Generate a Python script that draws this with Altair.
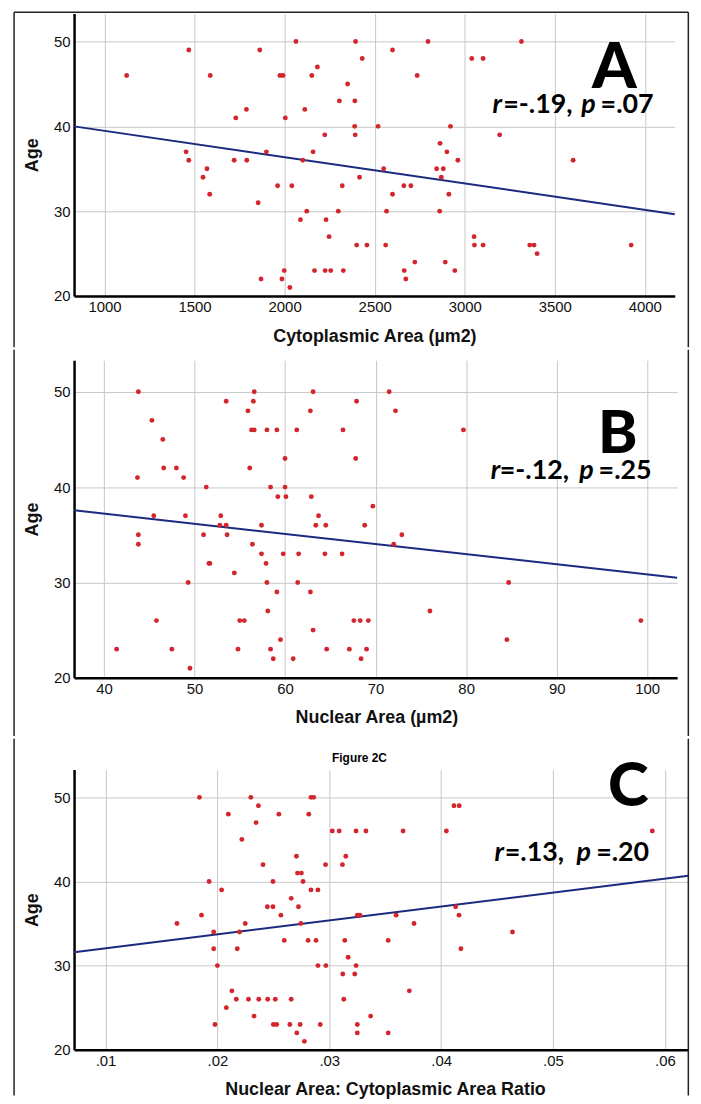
import altair as alt
import pandas as pd

# ---------------- Panel A: Cytoplasmic area vs Age ----------------
cyto_area = [1123, 1468, 1587, 1862, 2063, 2182, 1974, 1991, 2151, 2431, 2394, 2350,
             2304, 2390, 1788, 2112, 1729, 2004, 2389, 2519, 2223, 2392, 1453, 1899,
             2158, 1468, 1720, 1790, 2101, 1569, 1547, 2416, 1961, 2040, 2320, 1584,
             1853, 2123, 2298, 2088, 2230, 2247, 2400, 2457, 1998, 2166, 2225, 2256,
             2326, 1869, 1985, 2029,
             2796, 3315, 2599, 3039, 3102, 2736, 2921, 3194, 2863, 2901, 2962, 3602,
             2550, 2844, 2881, 2870, 2662, 2701, 2599, 2912, 2566, 2861, 3052, 2561,
             3054, 3102, 3361, 3385, 3924, 3402, 2723, 2892, 2664, 2945, 2673]
cyto_age = [46, 49, 46, 49, 50, 47, 46, 46, 46, 48, 50, 45,
            43, 43, 42, 42, 41, 41, 40, 40, 39, 39, 37, 37,
            37, 36, 36, 36, 36, 35, 34, 34, 33, 33, 33, 32,
            31, 30, 30, 29, 29, 27, 26, 26, 23, 23, 23, 23,
            23, 22, 22, 21,
            50, 50, 49, 48, 48, 46, 40, 39, 38, 37, 36, 36,
            35, 35, 35, 34, 33, 33, 32, 32, 30, 30, 27, 26,
            26, 26, 26, 26, 26, 25, 24, 24, 23, 23, 22]
fitA_x = [831, 4166]
fitA_y = [40.0, 29.65]

# ---------------- Panel B: Nuclear area vs Age ----------------
nuc_area = [43.8, 56.6, 63.1, 53.5, 56.5, 67.9, 55.9, 62.8, 45.3, 56.3, 56.6, 58.0,
            59.1, 61.3, 66.4, 46.5, 60.0, 67.8, 46.6, 48.0, 56.1, 43.7, 48.8, 51.3,
            58.4, 60.0, 59.2, 60.1, 62.9, 69.7, 45.5, 49.0, 52.9, 63.7, 52.8, 53.5,
            57.4, 63.4, 64.5, 68.8, 43.8, 51.0, 53.6, 43.8, 56.4, 57.4, 59.8, 61.5,
            64.4, 66.3, 51.6, 51.7, 57.9, 54.4, 49.3, 58.0, 61.4, 59.1, 62.8, 58.1,
            45.8, 55.0, 55.5, 67.6, 68.3, 69.2, 63.1, 59.5, 41.4, 47.5, 54.8, 58.4,
            64.6, 67.1, 69.0, 58.7, 60.9, 68.4, 49.5,
            71.5, 72.2, 79.7, 72.9, 72.0, 84.7, 76.0, 99.3, 84.5]
nuc_age = [50, 50, 50, 49, 49, 49, 48, 48, 47, 46, 46, 46,
           46, 46, 46, 45, 43, 43, 42, 42, 42, 41, 41, 40,
           40, 40, 39, 39, 39, 38, 37, 37, 37, 37, 36, 36,
           36, 36, 36, 36, 35, 35, 35, 34, 34, 33, 33, 33,
           33, 33, 32, 32, 32, 31, 30, 30, 30, 29, 29, 27,
           26, 26, 26, 26, 26, 26, 25, 24, 23, 23, 23, 23,
           23, 23, 23, 22, 22, 22, 21,
           50, 48, 46, 35, 34, 30, 27, 26, 24]
fitB_x = [36.7, 103.3]
fitB_y = [37.57, 30.49]

# ---------------- Panel C: N:C ratio vs Age ----------------
nc_ratio = [0.01840, 0.02299, 0.02837, 0.02861, 0.02367, 0.02098, 0.02550, 0.02817,
            0.02346, 0.03027, 0.03089, 0.03240, 0.03328, 0.02219, 0.02707, 0.03148,
            0.02408, 0.02967, 0.03118, 0.02716, 0.02751, 0.01926, 0.02497, 0.02766,
            0.02038, 0.02837, 0.02899, 0.02660, 0.02447, 0.02497, 0.02725, 0.01858,
            0.02568, 0.03251, 0.03275, 0.01639, 0.02249, 0.02746, 0.01967, 0.02198,
            0.02598, 0.02811, 0.02882, 0.03139, 0.01967, 0.02178, 0.03169, 0.02000,
            0.02899, 0.02970, 0.03240, 0.03121, 0.03228, 0.02130, 0.02169, 0.02278,
            0.02370, 0.02450, 0.02518, 0.02660, 0.03130, 0.02080, 0.02328, 0.03370,
            0.01979, 0.02500, 0.02530, 0.02648, 0.02740, 0.02920, 0.03251, 0.02710,
            0.03251, 0.02778,
            0.04115, 0.04162, 0.03660, 0.04047, 0.05888, 0.04130, 0.03598, 0.04160,
            0.03758, 0.04638, 0.03527, 0.04177, 0.03716, 0.03527]
nc_age = [50, 50, 50, 50, 49, 48, 48, 48,
          47, 46, 46, 46, 46, 45, 43, 43,
          42, 42, 42, 41, 41, 40, 40, 40,
          39, 39, 39, 38, 37, 37, 37, 36,
          36, 36, 36, 35, 35, 35, 34, 34,
          33, 33, 33, 33, 32, 32, 31, 30,
          30, 30, 30, 29, 29, 27, 26, 26,
          26, 26, 26, 26, 26, 25, 24, 24,
          23, 23, 23, 23, 23, 23, 23, 22,
          22, 21,
          49, 49, 46, 46, 46, 37, 36, 36,
          35, 34, 33, 32, 27, 22]
fitC_x = [0.00719, 0.0621]
fitC_y = [31.59, 40.69]

# ---------------- Styling ----------------
FONT = "Liberation Sans"
TXT_FONT = "Lato"
RED = "#d3252b"
NAVY = "#1b2a7e"
GRID = "#c8c8c8"
INK = "#111111"
FRAME = "#222222"
FRAME_L = -60.4
FRAME_R = 618.3
Y_DOMAIN = [20, 53.3]
STAT_SIZE = 27

one = pd.DataFrame({"k": [0]})


def text_layer(txt, x, y, size, weight="bold", style="normal", align="left",
               font=TXT_FONT, baseline="alphabetic"):
    return alt.Chart(one).mark_text(
        text=txt, font=font, fontSize=size, fontWeight=weight, fontStyle=style,
        align=align, baseline=baseline, color="black"
    ).encode(x=alt.value(x), y=alt.value(y))


def panel(xv, yv, fx, fy, x_domain, x_ticks, x_title, title_x, w, h,
          letter, letter_x, letter_y, letter_size,
          stat_parts, stat_base, frame_y0, frame_y1,
          top_rule=False, caption=None, label_expr=None, fmt=None):
    pts = pd.DataFrame({"x": xv, "y": yv})
    fit = pd.DataFrame({"x": fx, "y": fy})
    xaxis_kw = dict(values=x_ticks, title=x_title, grid=True, gridColor=GRID,
                    gridWidth=1, domainColor="black", domainWidth=2.5, ticks=False,
                    labelFont=FONT, labelFontSize=15, labelColor=INK, labelPadding=4,
                    titleFont=FONT, titleFontSize=18, titleFontWeight="bold",
                    titleColor=INK, titleY=40.5, titleBaseline="middle",
                    titleX=title_x, titleAlign="center")
    if label_expr:
        xaxis_kw["labelExpr"] = label_expr
    if fmt:
        xaxis_kw["format"] = fmt
    xaxis = alt.Axis(**xaxis_kw)
    yaxis = alt.Axis(values=[20, 30, 40, 50], title="Age", grid=True, gridColor=GRID,
                     gridWidth=1, domainColor="black", domainWidth=2.5, ticks=False,
                     labelFont=FONT, labelFontSize=15, labelColor=INK, labelPadding=4,
                     titleFont=FONT, titleFontSize=18, titleFontWeight="bold",
                     titleColor=INK, titleX=-42, titleY=h / 2, titleAngle=270,
                     titleBaseline="middle", titleAlign="center")
    xs = alt.Scale(domain=x_domain, nice=False, zero=False)
    ys = alt.Scale(domain=Y_DOMAIN, nice=False, zero=False)

    line = alt.Chart(fit).mark_line(color=NAVY, strokeWidth=2).encode(
        x=alt.X("x:Q", scale=xs, axis=xaxis),
        y=alt.Y("y:Q", scale=ys, axis=yaxis),
    )
    dots = alt.Chart(pts).mark_circle(size=24, color=RED, opacity=1).encode(
        x=alt.X("x:Q", scale=xs), y=alt.Y("y:Q", scale=ys)
    )
    layers = [line, dots]
    layers.append(text_layer(letter, letter_x, letter_y, letter_size, weight=900,
                             align="center"))
    for txt, italic, px in stat_parts:
        layers.append(text_layer(txt, px, stat_base, STAT_SIZE,
                                 style="italic" if italic else "normal"))
    layers.append(alt.Chart(one).mark_rule(color=FRAME, strokeWidth=1.5).encode(
        x=alt.value(FRAME_L), y=alt.value(frame_y0), y2=alt.value(frame_y1)))
    layers.append(alt.Chart(one).mark_rule(color=FRAME, strokeWidth=1.5).encode(
        x=alt.value(FRAME_R), y=alt.value(frame_y0), y2=alt.value(frame_y1)))
    if top_rule:
        layers.append(alt.Chart(one).mark_rule(color=FRAME, strokeWidth=1.5).encode(
            x=alt.value(FRAME_L), x2=alt.value(FRAME_R), y=alt.value(frame_y0)))
    if caption:
        layers.append(text_layer(caption, 287.3, -12, 12, font=FONT, align="center",
                                 baseline="middle"))
    return alt.layer(*layers).properties(width=w, height=h)


A = panel(cyto_area, cyto_age, fitA_x, fitA_y, [831, 4166],
          [1000, 1500, 2000, 2500, 3000, 3500, 4000], "Cytoplasmic Area (µm2)", 302.3,
          604.6, 284.3, "A", 543.8, 75, 64,
          [("r", True, 421.3), ("=-.19,", False, 432), ("p", True, 510.5),
           ("=.07", False, 530)], 99.7, -1.25, 336, top_rule=True, fmt="d")

B = panel(nuc_area, nuc_age, fitB_x, fitB_y, [36.7, 103.3],
          [40, 50, 60, 70, 80, 90, 100], "Nuclear Area (µm2)", 304.3,
          607, 319.6, "B", 547.3, 93.3, 60,
          [("r", True, 419.3), ("=-.12,", False, 428.5), ("p", True, 508.5),
           ("=.25", False, 528)], 120, -10.7, 378.3, fmt="d")

C = panel(nc_ratio, nc_age, fitC_x, fitC_y, [0.00719, 0.0621],
          [0.01, 0.02, 0.03, 0.04, 0.05, 0.06],
          "Nuclear Area: Cytoplasmic Area Ratio", 313,
          618.3, 282, "C", 557.8, 37, 62,
          [("r", True, 423.3), ("=.13,", False, 433.5), ("p", True, 505.8),
           ("=.20", False, 525.5)], 91.7, -31, 328,
          caption="Figure 2C",
          label_expr="substring(format(datum.value, '.2f'), 1)")

chart = alt.vconcat(A, B, C, spacing=0).properties(
    padding={"left": 4.5, "top": 0, "right": 0, "bottom": 0}
).configure_view(stroke=None)

chart.save("out.html", embed_options={"renderer": "svg", "actions": False})
